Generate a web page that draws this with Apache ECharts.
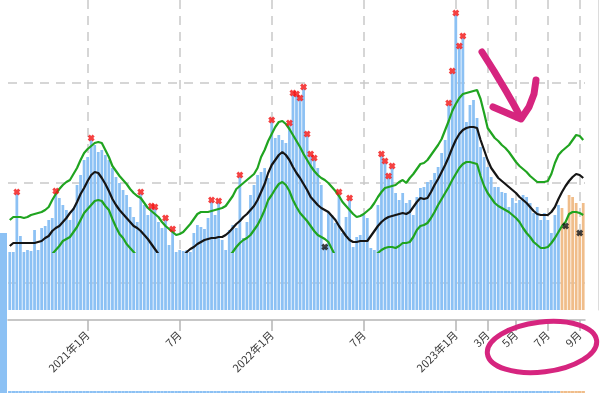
<!DOCTYPE html>
<html><head><meta charset="utf-8">
<script src="https://cdn.jsdelivr.net/npm/echarts@6/dist/echarts.min.js"></script>
<style>html,body{margin:0;padding:0;background:#fff}#c{width:600px;height:393px}</style>
</head><body><div id="c"></div>
<script>
// weekly series, first week starting 2020-08-03
const firstWeek = '2020-08-03';
const observed = [
2462,2462,2578,2494,2462,2466,2464,2506,2466,2510,
2514,2526,2530,2580,2570,2556,2546,2526,2550,2596,
2616,2646,2652,2686,2676,2662,2666,2656,2646,2630,
2612,2600,2586,2576,2552,2532,2522,2578,2556,2536,
2550,2548,2522,2510,2526,2476,2504,2462,2466,2464,
2466,2462,2500,2516,2512,2508,2530,2562,2536,2560,
2486,2466,2506,2516,2510,2612,2490,2522,2576,2596,
2616,2622,2630,2610,2722,2690,2696,2686,2680,2716,
2776,2774,2766,2788,2694,2654,2646,2630,2596,2472,
2542,2536,2520,2578,2500,2532,2566,2472,2492,2496,
2536,2530,2470,2466,2556,2654,2640,2610,2630,2580,
2566,2580,2560,2566,2536,2572,2590,2592,2602,2606,
2620,2632,2660,2686,2756,2820,2936,2870,2890,2722,
2756,2766,2730,2672,2652,2632,2612,2592,2592,2582,
2580,2552,2570,2560,2566,2576,2572,2560,2540,2552,
2526,2540,2526,2500,2536,2556];
const provisional = [2550,2514,2576,2572,2560,2500,2560];
const expected = [
2474,2480,2480,2480,2480,2480,2480,2480,2482,2484,
2490,2494,2504,2510,2514,2522,2530,2540,2548,2562,
2578,2590,2604,2616,2622,2620,2610,2598,2584,2568,
2556,2546,2538,2530,2522,2514,2510,2504,2496,2488,
2478,2468,2458,2450,2446,2442,2442,2444,2448,2454,
2462,2468,2472,2478,2482,2486,2488,2490,2490,2492,
2492,2496,2502,2510,2518,2524,2532,2538,2546,2554,
2566,2582,2598,2620,2636,2646,2656,2662,2656,2646,
2632,2620,2610,2598,2586,2572,2564,2556,2550,2546,
2542,2534,2526,2514,2504,2494,2486,2482,2482,2484,
2484,2484,2494,2504,2514,2522,2528,2532,2534,2536,
2538,2540,2538,2542,2552,2562,2570,2568,2570,2582,
2596,2608,2622,2636,2652,2670,2686,2698,2706,2710,
2712,2712,2710,2686,2666,2646,2630,2620,2610,2604,
2598,2592,2586,2580,2572,2566,2560,2552,2544,2538,
2536,2536,2536,2542,2552,2568,2582,2594,2604,2612,
2618,2616,2610];
const upperBound = [
2526,2532,2532,2532,2530,2532,2536,2538,2540,2542,
2546,2552,2566,2578,2588,2596,2602,2606,2618,2630,
2646,2660,2668,2674,2680,2682,2680,2666,2652,2634,
2624,2614,2606,2598,2588,2580,2574,2570,2560,2550,
2544,2538,2532,2522,2514,2508,2502,2496,2498,2502,
2510,2518,2528,2538,2542,2542,2542,2544,2546,2548,
2550,2554,2564,2574,2588,2594,2600,2606,2612,2618,
2630,2652,2666,2684,2698,2712,2722,2724,2718,2708,
2696,2684,2672,2658,2646,2634,2624,2616,2610,2606,
2600,2592,2584,2574,2562,2554,2546,2538,2532,2534,
2538,2544,2550,2560,2572,2582,2590,2592,2594,2596,
2602,2606,2600,2610,2618,2628,2638,2640,2646,2656,
2666,2676,2688,2706,2724,2744,2758,2770,2778,2780,
2782,2784,2786,2768,2740,2710,2700,2690,2684,2676,
2670,2662,2652,2642,2634,2628,2622,2614,2608,2602,
2602,2602,2604,2618,2640,2656,2664,2670,2676,2686,
2696,2694,2686];
const lowerBound = [
2430,2430,2430,2430,2430,2432,2432,2434,2436,2438,
2442,2450,2458,2466,2474,2484,2488,2492,2502,2512,
2526,2540,2548,2556,2564,2566,2564,2554,2546,2528,
2512,2498,2490,2478,2470,2462,2454,2446,2438,2430,
2422,2416,2410,2406,2404,2402,2402,2404,2406,2408,
2412,2416,2420,2424,2428,2430,2432,2434,2436,2438,
2442,2446,2454,2462,2472,2480,2486,2490,2496,2506,
2516,2530,2546,2566,2576,2588,2598,2602,2596,2584,
2566,2552,2540,2532,2524,2514,2504,2496,2492,2488,
2482,2468,2454,2442,2434,2428,2424,2422,2422,2424,
2428,2434,2442,2452,2460,2466,2470,2472,2472,2470,
2474,2480,2480,2482,2492,2506,2514,2516,2520,2530,
2542,2556,2568,2580,2592,2606,2618,2630,2638,2642,
2642,2640,2638,2614,2594,2580,2570,2560,2554,2550,
2546,2542,2536,2530,2522,2510,2500,2492,2482,2476,
2470,2470,2472,2480,2490,2502,2514,2522,2538,2542,
2542,2540,2536];
const excessWeeks = [2,13,23,37,40,41,44,46,57,59,65,74,79,80,81,82,83,84,85,86,93,96,105,106,107,108,124,125,126,127,128];
const deficitWeeks = [89,157,161];
const tickWeeks = ['2021-01-04','2021-07-05','2022-01-03','2022-07-04','2023-01-02','2023-03-06','2023-05-01','2023-07-03','2023-09-04'];
const tickLabels = ['2021年1月','7月','2022年1月','7月','2023年1月','3月','5月','7月','9月'];

const allBars = observed.concat(provisional);
const weeks = [];
const t0 = Date.parse(firstWeek + 'T00:00:00Z');
for (let i = 0; i < allBars.length; i++) weeks.push(new Date(t0 + i * 7 * 86400000).toISOString().slice(0, 10));
const tickIdx = tickWeeks.map(d => weeks.indexOf(d));
const isTick = (i) => tickIdx.indexOf(i) >= 0;
const blueData = allBars.map((v, i) => i < observed.length ? v : null);
const orangeData = allBars.map((v, i) => i < observed.length ? null : v);

const BLUE = '#8cc1f4', ORANGE = '#f0bd8a', PINK = '#d6257f';
const xPath = 'path://M0,3 L3,0 L5,2 L7,0 L10,3 L8,5 L10,7 L7,10 L5,8 L3,10 L0,7 L2,5 Z';
const gridStyle = { color: '#c9c9c9', width: 1.5, type: [9, 7] };

const chart = echarts.init(document.getElementById('c'), null, { renderer: 'canvas' });
chart.setOption({
  animation: false,
  backgroundColor: '#fff',
  grid: [
    { left: 8, right: 15, top: 0, bottom: 83 },
    { left: 8, right: 15, top: 0, bottom: 141 },
    { left: 8, right: 15, top: 391, height: 200 }
  ],
  xAxis: [
    { type: 'category', gridIndex: 0, data: weeks, boundaryGap: true, offset: 10,
      axisLine: { show: true, lineStyle: { color: '#b5b5b5', width: 1.5 } },
      axisTick: { show: true, alignWithLabel: true, interval: (i) => isTick(i), length: 11, lineStyle: { color: '#b5b5b5', width: 1.5 } },
      axisLabel: { show: true, interval: (i) => isTick(i), rotate: 45, margin: 13,
        fontFamily: "'Noto Sans CJK JP', sans-serif", fontSize: 11, color: '#3a3a3a',
        formatter: (v) => tickLabels[tickWeeks.indexOf(v)] || '' },
      splitLine: { show: true, alignWithLabel: true, interval: (i) => isTick(i), lineStyle: gridStyle } },
    { type: 'category', gridIndex: 1, data: weeks, boundaryGap: true, show: false },
    { type: 'category', gridIndex: 2, data: weeks, boundaryGap: true, show: false }
  ],
  yAxis: [
    { type: 'value', gridIndex: 0, min: 2346, max: 2966, splitNumber: 3, minInterval: 200, maxInterval: 200,
      axisLine: { show: false }, axisTick: { show: false }, axisLabel: { show: false },
      splitLine: { show: true, showMinLine: false, showMaxLine: false, lineStyle: gridStyle } },
    { type: 'value', gridIndex: 1, min: 2462, max: 2966, show: false, splitLine: { show: false } },
    { type: 'value', gridIndex: 2, min: 0, max: 1, show: false, splitLine: { show: false } },
    { type: 'value', gridIndex: 0, position: 'right', offset: 13, min: 2346, max: 2966,
      axisLine: { show: true, lineStyle: { color: '#dcdcdc', width: 1 } },
      axisTick: { show: false }, axisLabel: { show: false }, splitLine: { show: false } }
  ],
  series: [
    { type: 'bar', xAxisIndex: 0, yAxisIndex: 0, data: blueData, barCategoryGap: '22%', barGap: '-100%', itemStyle: { color: BLUE } },
    { type: 'bar', xAxisIndex: 0, yAxisIndex: 0, data: orangeData, barCategoryGap: '22%', barGap: '-100%', itemStyle: { color: ORANGE } },
    { type: 'bar', xAxisIndex: 2, yAxisIndex: 2, data: blueData, barCategoryGap: '5%', barGap: '-100%', itemStyle: { color: BLUE } },
    { type: 'bar', xAxisIndex: 2, yAxisIndex: 2, data: orangeData, barCategoryGap: '5%', barGap: '-100%', itemStyle: { color: ORANGE } },
    { type: 'line', xAxisIndex: 1, yAxisIndex: 1, data: upperBound, showSymbol: false, clip: true, z: 3,
      lineStyle: { color: '#20a420', width: 2.2 } },
    { type: 'line', xAxisIndex: 1, yAxisIndex: 1, data: lowerBound, showSymbol: false, clip: true, z: 3,
      lineStyle: { color: '#20a420', width: 2.2 } },
    { type: 'line', xAxisIndex: 1, yAxisIndex: 1, data: expected, showSymbol: false, clip: true, z: 3,
      lineStyle: { color: '#151515', width: 2.2 } },
    { type: 'scatter', xAxisIndex: 1, yAxisIndex: 1, clip: false, z: 5, symbol: xPath, symbolSize: 7, symbolOffset: [0, -2],
      itemStyle: { color: '#f21212' }, data: excessWeeks.map(i => [i, allBars[i]]) },
    { type: 'scatter', xAxisIndex: 1, yAxisIndex: 1, clip: false, z: 5, symbol: xPath, symbolSize: 7,
      itemStyle: { color: '#111' }, data: deficitWeeks.map(i => [i, allBars[i]]) }
  ],
  graphic: [
    { type: 'rect', shape: { x: 0, y: 233, width: 7, height: 160 }, style: { fill: BLUE }, z: 1 },
    { type: 'polyline', z: 100, shape: { points: [[482,52],[494,71],[506,91],[514,105],[521,118]] },
      style: { stroke: PINK, lineWidth: 7, lineCap: 'round', lineJoin: 'round', fill: null } },
    { type: 'polyline', z: 100, shape: { points: [[493,107],[507,113],[521,119],[529,107],[534,94],[536,80]] },
      style: { stroke: PINK, lineWidth: 7, lineCap: 'round', lineJoin: 'round', fill: null } },
    { type: 'ellipse', z: 100, x: 542, y: 347, rotation: 0.12, shape: { cx: 0, cy: 0, rx: 55, ry: 25 },
      style: { fill: null, stroke: PINK, lineWidth: 5 } }
  ]
});
</script></body></html>
